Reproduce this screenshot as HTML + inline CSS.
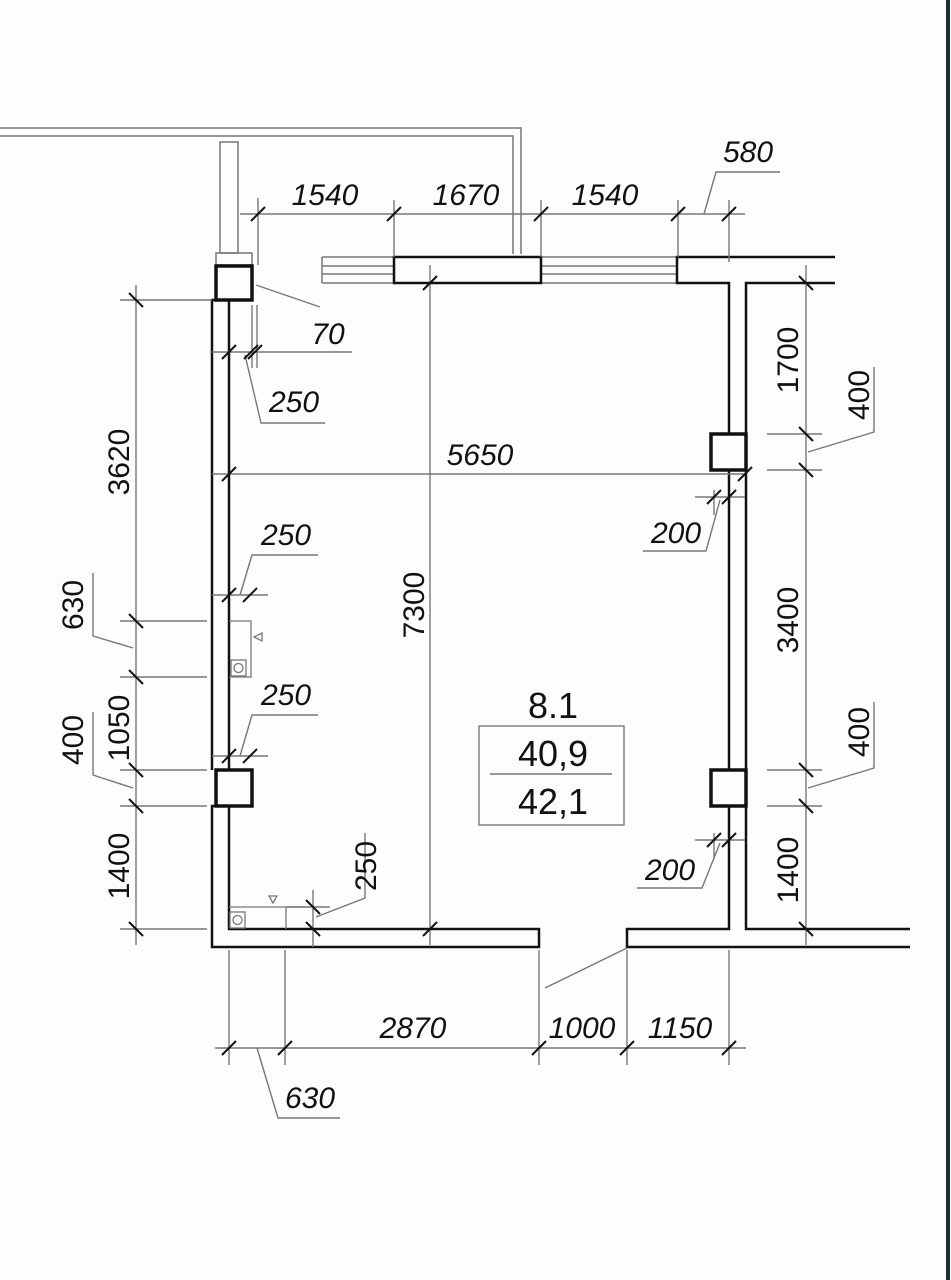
<!DOCTYPE html>
<html><head><meta charset="utf-8"><style>
html,body{margin:0;padding:0;background:#fdfdfd;}
svg{display:block;}
text{font-family:"Liberation Sans",sans-serif;fill:#111;}
.it{font-style:italic;font-size:30px;}
.vt{font-size:30px;}
</style></head><body>
<svg width="951" height="1280" viewBox="0 0 951 1280" xmlns="http://www.w3.org/2000/svg">
<rect x="0" y="0" width="951" height="1280" fill="#fdfdfd"/>
<rect x="946" y="0" width="4" height="1280" fill="#1c2f34"/>
<g fill="none" stroke="#777" stroke-width="1.5">
<polyline points="0,128 521,128 521,254"/>
<polyline points="0,136 513,136 513,254"/>
<rect x="220" y="142" width="18" height="111"/>
<rect x="216" y="253" width="36" height="12"/>
<line x1="322" y1="257" x2="394" y2="257"/><line x1="322" y1="266" x2="394" y2="266"/>
<line x1="322" y1="274" x2="394" y2="274"/><line x1="322" y1="283" x2="394" y2="283"/>
<line x1="322" y1="257" x2="322" y2="283"/>
<line x1="542" y1="257" x2="677" y2="257"/><line x1="542" y1="266" x2="677" y2="266"/>
<line x1="542" y1="274" x2="677" y2="274"/><line x1="542" y1="283" x2="677" y2="283"/>
</g>
<g fill="none" stroke="#111" stroke-width="2.5">
<rect x="394" y="257" width="147" height="26"/>
<polyline points="835,257 677,257 677,283 729,283 729,929 627,929 627,947 910,947"/>
<polyline points="835,283 746,283 746,929 910,929"/>
<polyline points="215,300 212,300 212,770"/>
<line x1="229" y1="300" x2="229" y2="770"/>
<polyline points="215,806 212,806 212,947 539,947 539,929 229,929 229,806"/>
</g>
<g fill="#fdfdfd" stroke="#111" stroke-width="3.5">
<rect x="216" y="266" width="36" height="34"/>
<rect x="216" y="770" width="36" height="36"/>
<rect x="711" y="434" width="35" height="36"/>
<rect x="711" y="770" width="35" height="36"/>
</g>
<g fill="none" stroke="#777" stroke-width="1.3">
<polyline points="229,621 251,621 251,677 229,677"/>
<rect x="231" y="660" width="15" height="16"/><circle cx="238.5" cy="668" r="4.5"/>
<polygon points="254,637 262,633 262,641"/>
<polyline points="229,907 305,907"/><line x1="286" y1="907" x2="286" y2="929"/>
<rect x="230" y="912" width="15" height="16"/><circle cx="237.5" cy="920" r="4.5"/>
<polygon points="269,896 277,896 273,903"/>
</g>
<g fill="none" stroke="#777" stroke-width="1.4">
<line x1="240" y1="214" x2="745" y2="214"/>
<line x1="258" y1="198" x2="258" y2="265"/>
<line x1="394" y1="200" x2="394" y2="257"/>
<line x1="541" y1="200" x2="541" y2="257"/>
<line x1="678" y1="200" x2="678" y2="257"/>
<line x1="729" y1="200" x2="729" y2="262"/>
<polyline points="704,214 716,172 780,172"/>
<line x1="256" y1="285" x2="320" y2="307"/>
<line x1="252" y1="305" x2="252" y2="368"/><line x1="257" y1="305" x2="257" y2="368"/>
<line x1="212" y1="352" x2="352" y2="352"/>
<polyline points="245,355 261,423 325,423"/>
<line x1="212" y1="474" x2="745" y2="474"/>
<line x1="430" y1="265" x2="430" y2="945"/>
<line x1="212" y1="595" x2="268" y2="595"/><polyline points="240,595 252,555 318,555"/>
<line x1="212" y1="756" x2="268" y2="756"/><polyline points="240,756 252,715 318,715"/>
<line x1="136" y1="285" x2="136" y2="945"/>
<line x1="120" y1="300" x2="212" y2="300"/>
<line x1="120" y1="621" x2="207" y2="621"/>
<line x1="120" y1="677" x2="207" y2="677"/>
<line x1="120" y1="770" x2="207" y2="770"/>
<line x1="120" y1="806" x2="207" y2="806"/>
<line x1="120" y1="929" x2="207" y2="929"/>
<polyline points="133,648 93,636 93,573"/>
<polyline points="133,788 93,775 93,712"/>
<line x1="313" y1="890" x2="313" y2="947"/>
<line x1="286" y1="907" x2="330" y2="907"/>
<polyline points="316,917 365,898 365,833"/>
<line x1="215" y1="1048" x2="746" y2="1048"/>
<line x1="229" y1="950" x2="229" y2="1065"/>
<line x1="285" y1="950" x2="285" y2="1065"/>
<line x1="539" y1="950" x2="539" y2="1065"/>
<line x1="627" y1="950" x2="627" y2="1065"/>
<line x1="729" y1="950" x2="729" y2="1065"/>
<polyline points="257,1048 278,1118 340,1118"/>
<line x1="545" y1="988" x2="627" y2="948"/>
<line x1="806" y1="265" x2="806" y2="945"/>
<line x1="767" y1="434" x2="822" y2="434"/>
<line x1="767" y1="470" x2="822" y2="470"/>
<line x1="767" y1="770" x2="822" y2="770"/>
<line x1="767" y1="806" x2="822" y2="806"/>
<polyline points="808,452 874,432 874,367"/>
<polyline points="808,788 874,768 874,702"/>
<line x1="695" y1="497" x2="745" y2="497"/>
<line x1="714" y1="490" x2="714" y2="515"/>
<polyline points="720,500 706,551 643,551"/>
<line x1="695" y1="840" x2="745" y2="840"/>
<line x1="714" y1="833" x2="714" y2="858"/>
<polyline points="720,843 702,888 637,888"/>
<rect x="479" y="726" width="145" height="99"/>
<line x1="490" y1="774" x2="612" y2="774"/>
</g>
<g stroke="#111" stroke-width="2">
<path d="M251,221L265,207 M387,221L401,207 M534,221L548,207 M671,221L685,207 M722,221L736,207
M222,359L236,345 M244,359L258,345 M248,359L262,345
M423,290L437,276 M423,936L437,922
M222,481L236,467 M738,481L752,467
M222,602L236,588 M243,602L257,588 M222,763L236,749 M243,763L257,749
M129,293L143,307 M129,614L143,628 M129,670L143,684 M129,763L143,777 M129,799L143,813 M129,922L143,936
M306,900L320,914 M306,922L320,936
M222,1055L236,1041 M278,1055L292,1041 M532,1055L546,1041 M620,1055L634,1041 M722,1055L736,1041
M799,276L813,290 M799,427L813,441 M799,463L813,477 M799,763L813,777 M799,799L813,813 M799,922L813,936
M707,504L721,490 M722,504L736,490 M707,847L721,833 M722,847L736,833"/>
</g>
<g class="it">
<text class="it" x="325" y="205" text-anchor="middle">1540</text>
<text class="it" x="466" y="205" text-anchor="middle">1670</text>
<text class="it" x="605" y="205" text-anchor="middle">1540</text>
<text class="it" x="748" y="162" text-anchor="middle">580</text>
<text class="it" x="328" y="344" text-anchor="middle">70</text>
<text class="it" x="294" y="412" text-anchor="middle">250</text>
<text class="it" x="480" y="465" text-anchor="middle">5650</text>
<text class="it" x="286" y="545" text-anchor="middle">250</text>
<text class="it" x="286" y="705" text-anchor="middle">250</text>
<text class="it" x="676" y="543" text-anchor="middle">200</text>
<text class="it" x="670" y="880" text-anchor="middle">200</text>
<text class="it" x="413" y="1038" text-anchor="middle">2870</text>
<text class="it" x="582" y="1038" text-anchor="middle">1000</text>
<text class="it" x="680" y="1038" text-anchor="middle">1150</text>
<text class="it" x="310" y="1108" text-anchor="middle">630</text>
</g>
<g class="vt">
<text class="vt" transform="translate(129,462) rotate(-90)" text-anchor="middle">3620</text>
<text class="vt" transform="translate(83,605) rotate(-90)" text-anchor="middle">630</text>
<text class="vt" transform="translate(129,728) rotate(-90)" text-anchor="middle">1050</text>
<text class="vt" transform="translate(83,740) rotate(-90)" text-anchor="middle">400</text>
<text class="vt" transform="translate(129,866) rotate(-90)" text-anchor="middle">1400</text>
<text class="vt" transform="translate(424,605) rotate(-90)" text-anchor="middle">7300</text>
<text class="vt" transform="translate(376,866) rotate(-90)" text-anchor="middle">250</text>
<text class="vt" transform="translate(798,360) rotate(-90)" text-anchor="middle">1700</text>
<text class="vt" transform="translate(869,395) rotate(-90)" text-anchor="middle">400</text>
<text class="vt" transform="translate(798,620) rotate(-90)" text-anchor="middle">3400</text>
<text class="vt" transform="translate(869,732) rotate(-90)" text-anchor="middle">400</text>
<text class="vt" transform="translate(798,870) rotate(-90)" text-anchor="middle">1400</text>
</g>
<text x="553" y="718" font-size="36" text-anchor="middle">8.1</text>
<text x="553" y="766" font-size="36" text-anchor="middle">40,9</text>
<text x="553" y="814" font-size="36" text-anchor="middle">42,1</text>
</svg>
</body></html>
